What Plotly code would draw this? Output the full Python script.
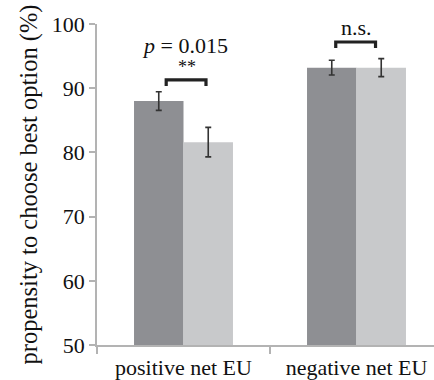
import plotly.graph_objects as go

categories = ["positive net EU", "negative net EU"]
dark_vals = [88.0, 93.2]
dark_err = [1.45, 1.15]
light_vals = [81.6, 93.2]
light_err = [2.3, 1.4]
y_ticks = [50, 60, 70, 80, 90, 100]

FONT = "'Liberation Serif', Tinos, 'Times New Roman', Times, serif"
AX = "#b3b3b3"

fig = go.Figure()
fig.add_trace(go.Bar(
    x=categories, y=dark_vals, marker=dict(color="#8e8f93", line=dict(width=0)),
    error_y=dict(type="data", array=dark_err, color="#333333", thickness=1.6, width=3),
    showlegend=False))
fig.add_trace(go.Bar(
    x=categories, y=light_vals, marker=dict(color="#c8c9cb", line=dict(width=0)),
    error_y=dict(type="data", array=light_err, color="#333333", thickness=1.6, width=3),
    showlegend=False))

def bracket(x0, x1, ytop, ybot):
    fig.add_shape(type="path",
                  path=f"M {x0} {ybot} L {x0} {ytop} L {x1} {ytop} L {x1} {ybot}",
                  xref="x", yref="y", line=dict(color="#222222", width=3.2))

bracket(-0.1, 0.13, 91.3, 90.35)
bracket(0.88, 1.11, 97.2, 96.26)

fig.add_annotation(x=0.01, y=96.6, xref="x", yref="y", showarrow=False,
                   text="<i>p</i> = 0.015", font=dict(family=FONT, size=22, color="#111111"))
fig.add_annotation(x=0.02, y=93.3, xref="x", yref="y", showarrow=False,
                   text="**", font=dict(family=FONT, size=18, color="#111111"))
fig.add_annotation(x=1.0, y=99.5, xref="x", yref="y", showarrow=False,
                   text="n.s.", font=dict(family=FONT, size=22, color="#111111"))

fig.update_layout(
    width=434, height=380,
    margin=dict(l=97, r=0, t=24, b=35, pad=0, autoexpand=False),
    paper_bgcolor="white", plot_bgcolor="white",
    barmode="group", bargap=0.428, bargroupgap=0,
    font=dict(family=FONT, color="#111111"),
)
fig.update_xaxes(
    type="category", range=[-0.5, 1.448], showgrid=False, automargin=False,
    showline=True, linecolor=AX, linewidth=1.5,
    ticks="outside", tickson="boundaries", ticklen=7, tickcolor=AX, tickwidth=1.5,
    ticklabelstandoff=2,
    tickfont=dict(family=FONT, size=22, color="#111111"),
)
fig.update_yaxes(
    range=[50, 100], tickvals=y_ticks, showgrid=False, zeroline=False, automargin=False,
    showline=True, linecolor=AX, linewidth=1.5,
    ticks="outside", ticklen=6, tickcolor=AX, tickwidth=1.5,
    tickfont=dict(family=FONT, size=22, color="#111111"),
    title=dict(text="propensity to choose best option (%)",
               font=dict(family=FONT, size=24.5, color="#111111"), standoff=7),
)

fig.write_html("out.html", config={"displayModeBar": False},
               post_script="document.body.style.margin='0';document.body.style.overflow='hidden';")
